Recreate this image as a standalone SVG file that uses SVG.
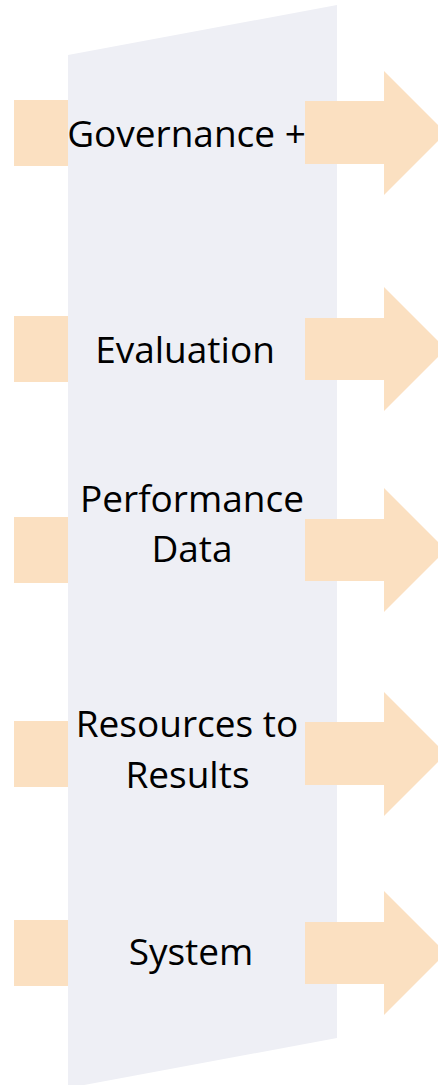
<svg xmlns="http://www.w3.org/2000/svg" width="438" height="1085" viewBox="0 0 438 1085">
<style>
.in{fill:#FBE0C1}
.out{fill:#FBE0C1}
.lbl{font-family:"Open Sans","Liberation Sans",sans-serif;font-size:37px;fill:#000;text-anchor:middle}
</style>
<rect width="438" height="1085" fill="#fff"/>
<g id="process">
<polygon points="68,55 337,5 337,1038 68,1088" fill="#EEEFF5"/>
</g>
<g id="connectors">
<rect class="in" x="14" y="100" width="54" height="66"/>
<rect class="in" x="14" y="316" width="54" height="66"/>
<rect class="in" x="14" y="517" width="54" height="66"/>
<rect class="in" x="14" y="721" width="54" height="66"/>
<rect class="in" x="14" y="920" width="54" height="66"/>
<polygon class="out" points="305,101 384,101 384,71 446,133 384,195 384,164 305,164"/>
<polygon class="out" points="305,318 384,318 384,287 446,349 384,411 384,380 305,380"/>
<polygon class="out" points="305,519 384,519 384,488 446,550 384,612 384,581 305,581"/>
<polygon class="out" points="305,722 384,722 384,692 446,754 384,816 384,785 305,785"/>
<polygon class="out" points="305,922 384,922 384,891 446,953 384,1015 384,984 305,984"/>
</g>
<g id="n1"><text class="lbl" x="186.5" y="147">Governance +</text></g>
<g id="n2"><text class="lbl" x="185" y="363">Evaluation</text></g>
<g id="n3"><text class="lbl" x="192" y="512">Performance</text><text class="lbl" x="192" y="562">Data</text></g>
<g id="n4"><text class="lbl" x="187" y="737">Resources to</text><text class="lbl" x="187.5" y="788">Results</text></g>
<g id="n5"><text class="lbl" x="191" y="965">System</text></g>
</svg>
